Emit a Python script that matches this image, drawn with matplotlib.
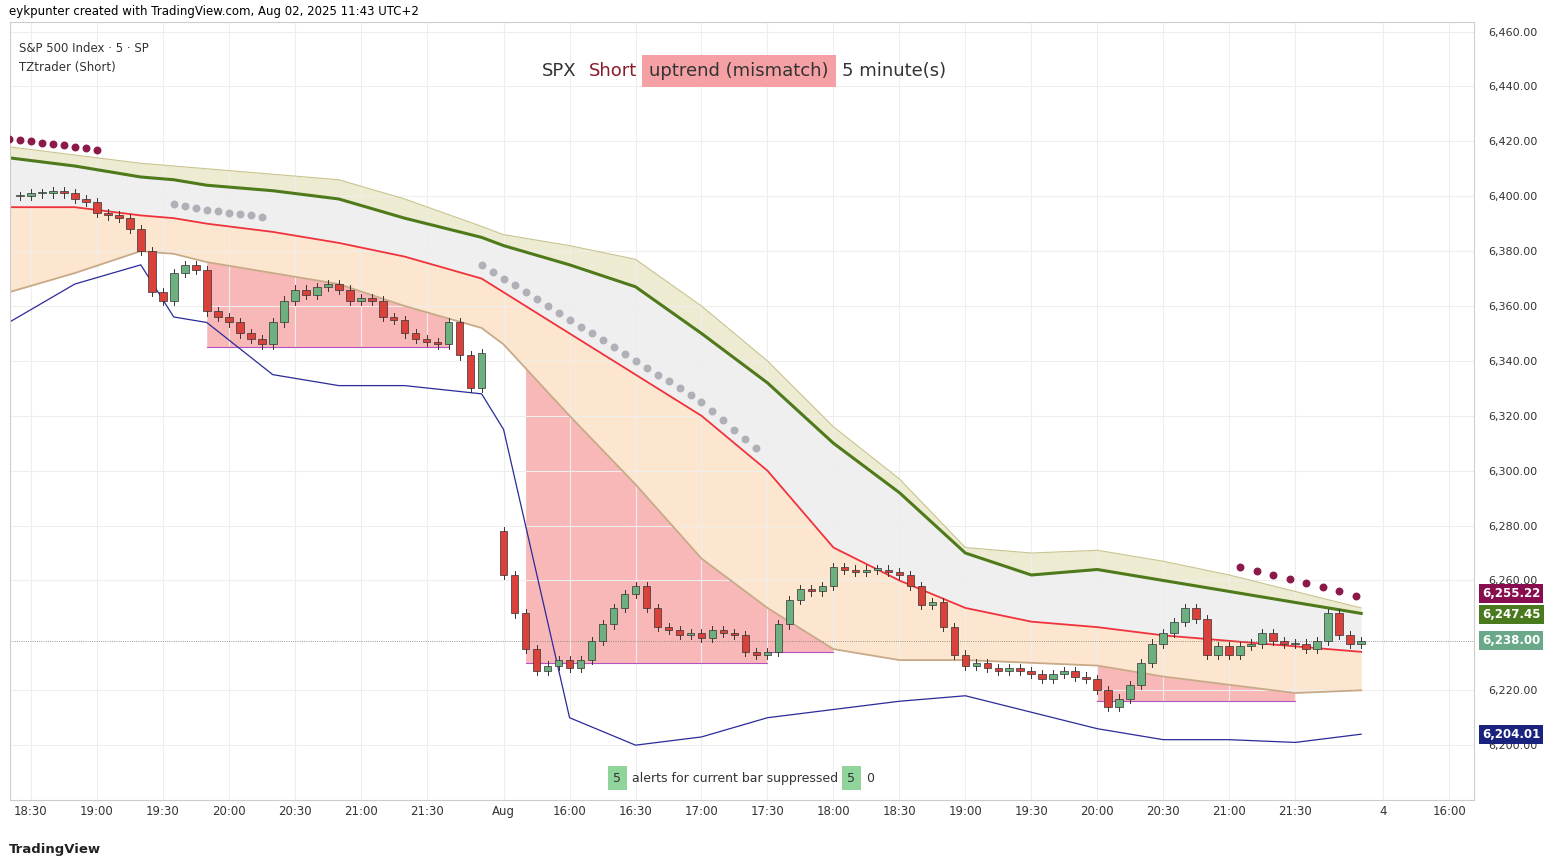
import matplotlib
matplotlib.use("Agg")
import matplotlib.pyplot as plt
import numpy as np

# ---- data ----
closes_day1 = [6400,6401,6401,6402,6401,6399,6398,6394,6393,6392,6388,6380,6365,6362,6372,6375,6373,6358,6356,6354,6350,6348,6346,6354,6362,6366,6364,6367,6368,6366,6362,6363,6362,6356,6355,6350,6348,6347,6346,6354,6342,6330,6343]
closes_day2 = [6262,6248,6235,6227,6229,6231,6228,6231,6238,6244,6250,6255,6258,6250,6243,6242,6240,6241,6239,6242,6241,6240,6234,6233,6234,6244,6253,6257,6256,6258,6265,6264,6263,6264,6264,6263,6262,6258,6251,6252,6243,6233,6229,6230,6228,6227,6228,6227,6226,6224,6226,6227,6225,6224,6220,6214,6217,6222,6230,6237,6241,6245,6250,6246,6233,6236,6233,6236,6237,6241,6238,6237,6237,6235,6238,6248,6240,6237,6238]
day2_first_open = 6278
day1_start_idx = -1
day2_start_idx = 43

grid = [-2,4,10,13,16,22,28,34,41,43,49,55,61,67,73,79,85,91,97,103,109,115,121]
ma_line   = [6414,6411,6407,6406,6404,6402,6399,6392,6385,6382,6375,6367,6350,6332,6310,6292,6270,6262,6264,6260,6256,6252,6248]
upper_bd  = [6418,6415,6412,6411,6410,6408,6406,6399,6389,6386,6382,6377,6360,6340,6316,6297,6272,6270,6271,6267,6262,6256,6250]
mid_line  = [6396,6396,6393,6392,6390,6387,6383,6378,6370,6365,6350,6335,6320,6300,6272,6260,6250,6245,6243,6240,6238,6236,6234]
lower_bd  = [6365,6372,6380,6379,6376,6372,6368,6360,6352,6346,6320,6295,6268,6250,6235,6231,6231,6230,6229,6225,6222,6219,6220]
navy_line = [6354,6368,6375,6356,6354,6335,6331,6331,6328,6315,6210,6200,6203,6210,6213,6216,6218,6212,6206,6202,6202,6201,6204]
support_segments = [(16,38,6345),(45,67,6230),(67,73,6234),(97,115,6216)]

xtick_pos = [0,6,12,18,24,30,36,43,49,55,61,67,73,79,85,91,97,103,109,115,123,129]
xtick_lab = ["18:30","19:00","19:30","20:00","20:30","21:00","21:30","Aug","16:00","16:30","17:00","17:30","18:00","18:30","19:00","19:30","20:00","20:30","21:00","21:30","4","16:00"]
yticks = [6200,6220,6260,6280,6300,6320,6340,6360,6380,6400,6420,6440,6460]
price_tags = [(6255.22,"6,255.22","#880e4f"),(6247.45,"6,247.45","#4a7a1e"),(6238.00,"6,238.00","#6aa88a"),(6204.01,"6,204.01","#1a237e")]

# ---- figure ----
fig = plt.figure(figsize=(15.53,8.64), dpi=100)
ax = fig.add_axes([0.0064,0.074,0.943,0.9])
ax.set_xlim(-1.9,131.3); ax.set_ylim(6180,6463.3)

g = np.array(grid)
ax.fill_between(g, upper_bd, ma_line, color="#e9e6c6", alpha=0.8, lw=0)
ax.fill_between(g, ma_line, mid_line, color="#ececec", alpha=0.8, lw=0)
ax.fill_between(g, mid_line, lower_bd, color="#fbd3a8", alpha=0.55, lw=0)
for a,b,lvl in support_segments:
    xs = np.arange(a,b+1)
    lb = np.interp(xs, g, lower_bd)
    ax.fill_between(xs, lb, lvl, where=lb>lvl, color="#f58a8a", alpha=0.6, lw=0)
    ax.plot([a,b],[lvl,lvl], color="#b452c0", lw=0.8)
ax.plot(g, upper_bd, color="#c9c48e", lw=0.8)
ax.plot(g, ma_line, color="#4f7a1c", lw=2.2)
ax.plot(g, mid_line, color="#f0323c", lw=1.3)
ax.plot(g, lower_bd, color="#c8aa88", lw=1.3)
ax.plot(g, navy_line, color="#2a2a9a", lw=0.9)
for a,b in [(13,22),(41,67)]:
    xs = np.arange(a,b)
    ax.scatter(xs, np.interp(xs,g,mid_line)+5, s=22, color="#b0b0b8", zorder=4)
ax.scatter(np.arange(-2,7), np.interp(np.arange(-2,7),g,upper_bd)+3, s=22, color="#8b1a4a", zorder=4)
ax.scatter(np.arange(110,122,1.5), np.interp(np.arange(110,122,1.5),g,upper_bd)+4, s=22, color="#8b1a4a", zorder=4)

def candles(start, closes, first_open):
    o = first_open
    for k,c in enumerate(closes):
        i = start+k
        up = c>=o
        col = "#6bb07e" if up else "#d9413a"
        lo, hi = min(o,c), max(o,c)
        ax.plot([i,i],[lo-1.5,hi+1.5], color="#333", lw=0.7, zorder=5)
        ax.bar(i, max(hi-lo,0.4), bottom=lo, width=0.7, color=col, edgecolor="#333", lw=0.5, zorder=6)
        o = c
candles(day1_start_idx, closes_day1, closes_day1[0])
candles(day2_start_idx, closes_day2, day2_first_open)

ax.axhline(6238, color="#777", lw=0.6, ls=":")
ax.yaxis.tick_right()
ax.set_yticks(yticks); ax.set_yticklabels([f"{v:,.2f}" for v in yticks], fontsize=8, color="#333")
ax.set_xticks(xtick_pos); ax.set_xticklabels(xtick_lab, fontsize=8.5, color="#333")
ax.grid(color="#eeeeee", lw=0.8)
ax.tick_params(length=0, axis="y", pad=10)
ax.tick_params(length=0, axis="x")
for s in ax.spines.values(): s.set_color("#cccccc")
for v,t,c in price_tags:
    ax.text(132.0, v, t, fontsize=8.5, color="white", fontweight="bold", va="center", ha="left",
            bbox=dict(boxstyle="square,pad=0.25", fc=c, ec="none"), clip_on=False, zorder=10)

fig.text(0.006,0.983,"eykpunter created with TradingView.com, Aug 02, 2025 11:43 UTC+2", fontsize=8.5)
ax.text(0.006,0.975,"S&P 500 Index · 5 · SP", transform=ax.transAxes, fontsize=8.5, color="#333", va="top")
ax.text(0.006,0.95,"TZtrader (Short)", transform=ax.transAxes, fontsize=8.5, color="#333", va="top")
ty = 0.918
fig.text(0.349,ty,"SPX", fontsize=13, color="#333", va="center")
fig.text(0.379,ty,"Short", fontsize=13, color="#8b1a2a", va="center")
fig.text(0.418,ty,"uptrend (mismatch)", fontsize=13, color="#333", va="center", bbox=dict(fc="#f4a0a4", ec="none", pad=5))
fig.text(0.542,ty,"5 minute(s)", fontsize=13, color="#333", va="center")
by = 0.0995
fig.text(0.395,by,"5", fontsize=9, color="#333", va="center", bbox=dict(fc="#8fd49a", ec="none", pad=4))
fig.text(0.407,by,"alerts for current bar suppressed", fontsize=9, color="#333", va="center")
fig.text(0.5455,by,"5", fontsize=9, color="#333", va="center", bbox=dict(fc="#8fd49a", ec="none", pad=4))
fig.text(0.558,by,"0", fontsize=9, color="#333", va="center")
fig.text(0.006,0.013,"TradingView", fontsize=9.5, color="#222", fontweight="bold")
fig.savefig("out.png", dpi=100)
